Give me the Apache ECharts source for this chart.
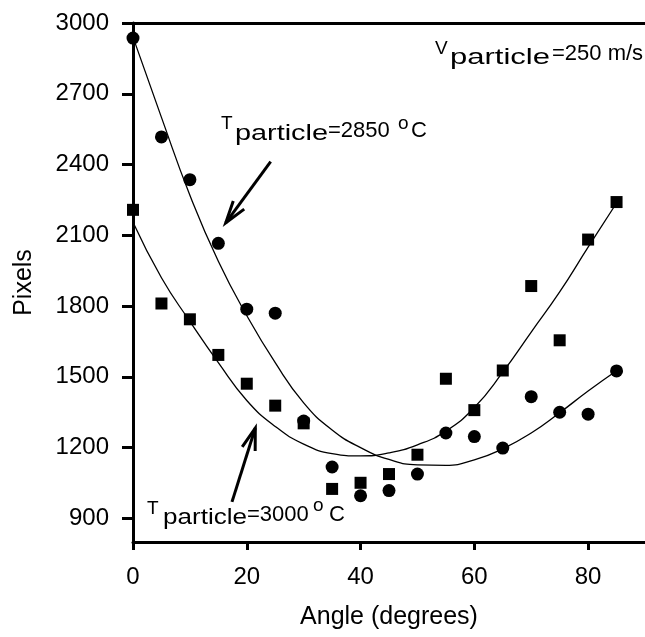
<!DOCTYPE html>
<html>
<head>
<meta charset="utf-8">
<title>Pixels vs angle</title>
<script src="https://cdn.jsdelivr.net/npm/echarts@6.0.0/dist/echarts.min.js"></script>
<style>
  html, body { margin: 0; padding: 0; background: #fff; }
  #chart { width: 645px; height: 637px; }
</style>
</head>
<body>
<div id="chart"></div>
<script>
const angles = [0, 5, 10, 15, 20, 25, 30, 35, 40, 45, 50, 55, 60, 65, 70, 75, 80, 85]
const pixels2850 = [2936, 2517, 2336, 2066, 1787, 1770, 1313, 1118, 996, 1018, 1088, 1262, 1247, 1198, 1416, 1350, 1342, 1525]
const pixels3000 = [2208, 1811, 1744, 1593, 1471, 1378, 1303, 1025, 1051, 1088, 1170, 1492, 1359, 1527, 1885, 1655, 2082, 2241]
// fitted curves, sampled off the figure at the same angles
const fit2850 = [2940, 2600, 2270, 1990, 1760, 1560, 1390, 1275, 1200, 1150, 1127, 1125, 1148, 1195, 1262, 1348, 1440, 1526]
const fit3000 = [2155, 1920, 1735, 1560, 1400, 1290, 1215, 1175, 1165, 1178, 1212, 1270, 1370, 1520, 1690, 1860, 2050, 2237]
const xTicks = [0, 20, 40, 60, 80]
const yTicks = [900, 1200, 1500, 1800, 2100, 2400, 2700, 3000]

const FONT = '"Liberation Sans", Arial, Helvetica, sans-serif'
const pairs = (xs, ys) => xs.map((x, i) => [x, ys[i]])

const chart = echarts.init(document.getElementById('chart'))

const axisLine = { show: true, onZero: false, lineStyle: { color: '#000', width: 3 } }
const labelStyle = { color: '#000', fontSize: 24, fontFamily: FONT }
const plain = (v) => String(v)

chart.setOption({
  animation: false,
  grid: { left: 133, right: -4, top: 23, bottom: 95 },
  xAxis: [
    {
      type: 'value',
      min: 0,
      max: 90,
      name: 'Angle (degrees)',
      nameLocation: 'middle',
      nameGap: 63,
      nameTextStyle: Object.assign({}, labelStyle, { fontSize: 25 }),
      axisLine: axisLine,
      axisTick: { customValues: xTicks, length: 8, lineStyle: { color: '#000', width: 3 } },
      axisLabel: Object.assign({ customValues: xTicks, margin: 23, formatter: plain }, labelStyle),
      splitLine: { show: false }
    },
    {
      type: 'value',
      position: 'top',
      min: 0,
      max: 90,
      axisLine: axisLine,
      axisTick: { show: false },
      axisLabel: { show: false },
      splitLine: { show: false }
    }
  ],
  yAxis: {
    type: 'value',
    min: 800,
    max: 3000,
    name: 'Pixels',
    nameLocation: 'middle',
    nameGap: 96,
    nameTextStyle: Object.assign({}, labelStyle, { fontSize: 25 }),
    axisLine: axisLine,
    axisTick: { customValues: yTicks, length: 11, lineStyle: { color: '#000', width: 3 } },
    axisLabel: Object.assign({ customValues: yTicks, margin: 24, formatter: plain }, labelStyle),
    splitLine: { show: false }
  },
  series: [
    {
      name: 'fit 2850',
      type: 'line',
      data: pairs(angles, fit2850),
      smooth: true,
      showSymbol: false,
      lineStyle: { color: '#000', width: 1.3 },
      z: 2
    },
    {
      name: 'fit 3000',
      type: 'line',
      data: pairs(angles, fit3000),
      smooth: true,
      showSymbol: false,
      lineStyle: { color: '#000', width: 1.3 },
      z: 2
    },
    {
      name: 'T 2850',
      type: 'scatter',
      data: pairs(angles, pixels2850),
      symbol: 'circle',
      symbolSize: 13,
      itemStyle: { color: '#000', opacity: 1 },
      z: 3
    },
    {
      name: 'T 3000',
      type: 'scatter',
      data: pairs(angles, pixels3000),
      symbol: 'rect',
      symbolSize: 12,
      itemStyle: { color: '#000', opacity: 1 },
      z: 3
    }
  ]
})

// annotation text: [text, left x, baseline y, font size, width it spans in the figure]
const notes = [
  ['T', 221, 130.5, 19], ['particle', 235, 141.5, 22, 93], ['=2850', 328, 138.5, 22], ['o', 398, 130.5, 19], ['C', 411, 138.5, 22],
  ['V', 435, 55, 19], ['particle', 450, 66, 22, 100], ['=250 m/s', 552, 61.7, 22],
  ['T', 147, 515, 19], ['particle', 163, 526, 22, 84], ['=3000', 247, 523, 22], ['o', 313, 512, 19], ['C', 329, 523, 22]
]

// arrows in data coordinates: [tail, head]
const arrows = [
  [[24.2, 2412], [16.3, 2153]],
  [[17.4, 970], [21.5, 1283]]
]

const ctx = document.createElement('canvas').getContext('2d')
const graphics = notes.map(([text, x, base, size, span]) => {
  ctx.font = size + 'px ' + FONT
  const sx = span ? span / ctx.measureText(text).width : 1
  return {
    type: 'text',
    x: x,
    y: base - 0.35 * size,
    scaleX: sx,
    style: { text: text, fill: '#000', fontSize: size, fontFamily: FONT, align: 'left', verticalAlign: 'middle' }
  }
})

arrows.forEach(([from, to]) => {
  const p0 = chart.convertToPixel({ xAxisIndex: 0, yAxisIndex: 0 }, from)
  const p1 = chart.convertToPixel({ xAxisIndex: 0, yAxisIndex: 0 }, to)
  const ang = Math.atan2(p0[1] - p1[1], p0[0] - p1[0])
  const wing = (d) => [p1[0] + 23 * Math.cos(ang + d), p1[1] + 23 * Math.sin(ang + d)]
  const stroke = { stroke: '#000', lineWidth: 3, fill: null }
  graphics.push({ type: 'line', shape: { x1: p0[0], y1: p0[1], x2: p1[0], y2: p1[1] }, style: stroke })
  graphics.push({ type: 'polyline', shape: { points: [wing(0.3), p1, wing(-0.3)] }, style: stroke })
})

chart.setOption({ graphic: graphics })
</script>
</body>
</html>
